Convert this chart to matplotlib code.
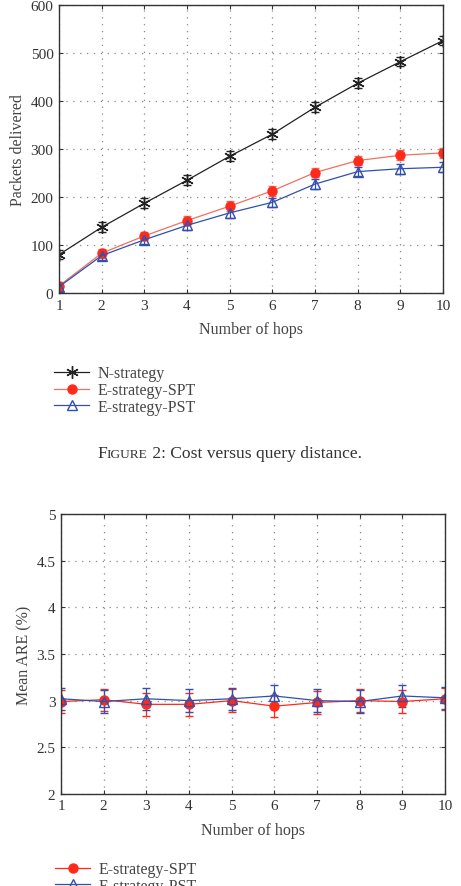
import matplotlib
matplotlib.use("Agg")
import matplotlib.pyplot as plt
from matplotlib.lines import Line2D

plt.rcParams["font.family"] = ["Liberation Serif", "DejaVu Serif"]
plt.rcParams["text.color"] = "#444444"
plt.rcParams["axes.labelcolor"] = "#444444"
plt.rcParams["xtick.color"] = "#333333"
plt.rcParams["ytick.color"] = "#333333"

hops = [1, 2, 3, 4, 5, 6, 7, 8, 9, 10]

# Figure 2: packets delivered
n_strategy = [80, 137, 187, 235, 285, 331, 387, 437, 482, 526]
n_err = [10, 10, 10, 10, 10, 10, 10, 10, 10, 10]
spt_cost = [15, 83, 119, 151, 181, 213, 251, 276, 287, 292]
spt_cost_err = [8, 9, 9, 10, 10, 10, 10, 10, 10, 10]
pst_cost = [13, 78, 111, 141, 167, 189, 227, 253, 259, 262]
pst_cost_err = [8, 9, 9, 10, 10, 10, 10, 10, 10, 10]

# Figure 3: mean ARE (%)
spt_are = [2.99, 3.01, 2.96, 2.96, 3.00, 2.94, 2.98, 3.00, 2.99, 3.02]
spt_are_err = [0.12, 0.12, 0.12, 0.12, 0.12, 0.12, 0.12, 0.12, 0.12, 0.12]
pst_are = [3.02, 2.99, 3.02, 3.00, 3.02, 3.05, 3.00, 2.99, 3.05, 3.03]
pst_are_err = [0.12, 0.12, 0.12, 0.12, 0.12, 0.12, 0.12, 0.12, 0.12, 0.12]

red = "#ff2a1a"
red_line = "#f07060"
blue = "#3050b0"
black = "#222222"

fig = plt.figure(figsize=(4.61, 8.87), dpi=100)


def style_axes(ax):
    ax.set_xlim(1, 10)
    ax.set_xticks(hops)
    ax.grid(True, linestyle=(0, (1, 4.5)), color="#888888", linewidth=0.9)
    ax.tick_params(direction="in", top=True, right=True, labelsize=11, length=3, pad=4)
    for s in ax.spines.values():
        s.set_color("#333333")
        s.set_linewidth(1.0)


leg_kw = dict(loc="upper left", frameon=False, fontsize=11.5, handlelength=2.2,
              labelspacing=0.05, handletextpad=0.55, borderpad=0)

ax1 = fig.add_axes([0.128, 0.6685, 0.833, 0.3247])
ax1.errorbar(hops, n_strategy, yerr=n_err, color=black, marker=(6, 2, 0), markersize=9,
             linewidth=0.9, capsize=3, elinewidth=0.9)
ax1.errorbar(hops, spt_cost, yerr=spt_cost_err, color=red_line, ecolor=red_line, marker="o",
             markerfacecolor=red, markeredgecolor=red, markersize=6.5,
             linewidth=0.9, capsize=3, elinewidth=0.9)
ax1.errorbar(hops, pst_cost, yerr=pst_cost_err, color=blue, marker="^", markerfacecolor="none",
             markeredgecolor=blue, markersize=7.5, linewidth=0.9, capsize=3,
             elinewidth=0.9)
style_axes(ax1)
ax1.set_ylim(0, 600)
ax1.set_yticks([0, 100, 200, 300, 400, 500, 600])
ax1.set_ylabel("Packets delivered", fontsize=11.5, labelpad=3)
ax1.set_xlabel("Number of hops", fontsize=11.5, labelpad=7)
h1 = [Line2D([], [], color=black, marker=(6, 2, 0), markersize=9, linewidth=0.9),
      Line2D([], [], color=red_line, marker="o", markerfacecolor=red, markeredgecolor=red,
             markersize=6.5, linewidth=0.9),
      Line2D([], [], color=blue, marker="^", markerfacecolor="none", markeredgecolor=blue,
             markersize=7.5, linewidth=0.9)]
fig.legend(h1, ["N-strategy", "E-strategy-SPT", "E-strategy-PST"],
           bbox_to_anchor=(0.100, 0.596), **leg_kw)

ax2 = fig.add_axes([0.1323, 0.104, 0.833, 0.315])
ax2.errorbar(hops, spt_are, yerr=spt_are_err, color=red, marker="o", markersize=6.5,
             linewidth=0.9, capsize=3, elinewidth=0.9)
ax2.errorbar(hops, pst_are, yerr=pst_are_err, color=blue, marker="^", markerfacecolor="none",
             markeredgecolor=blue, markersize=7.5, linewidth=0.9, capsize=3,
             elinewidth=0.9)
style_axes(ax2)
ax2.set_ylim(2, 5)
ax2.set_yticks([2, 2.5, 3, 3.5, 4, 4.5, 5])
ax2.set_yticklabels(["2", "2.5", "3", "3.5", "4", "4.5", "5"])
ax2.set_ylabel("Mean ARE (%)", fontsize=11.5, labelpad=3)
ax2.set_xlabel("Number of hops", fontsize=11.5, labelpad=7)
h2 = [Line2D([], [], color=red, marker="o", markersize=6.5, linewidth=0.9),
      Line2D([], [], color=blue, marker="^", markerfacecolor="none", markeredgecolor=blue,
             markersize=7.5, linewidth=0.9)]
fig.legend(h2, ["E-strategy-SPT", "E-strategy-PST"],
           bbox_to_anchor=(0.102, 0.037), **leg_kw)

# caption with small caps "Figure"
fig.canvas.draw()
renderer = fig.canvas.get_renderer()
pieces = [("F", 12.6), ("IGURE", 9.6), (" 2: Cost versus query distance.", 12.6)]
y_base = 1 - 458 / 887
texts = []
for s, fs in pieces:
    texts.append(fig.text(0, y_base, s, fontsize=fs, va="baseline", ha="left", color="#333333"))
widths = []
for t in texts:
    bb = t.get_window_extent(renderer)
    widths.append(bb.width / fig.bbox.width)
x = 0.4978 - sum(widths) / 2
for t, w in zip(texts, widths):
    t.set_x(x)
    x += w

fig.savefig("out.png", dpi=100)
